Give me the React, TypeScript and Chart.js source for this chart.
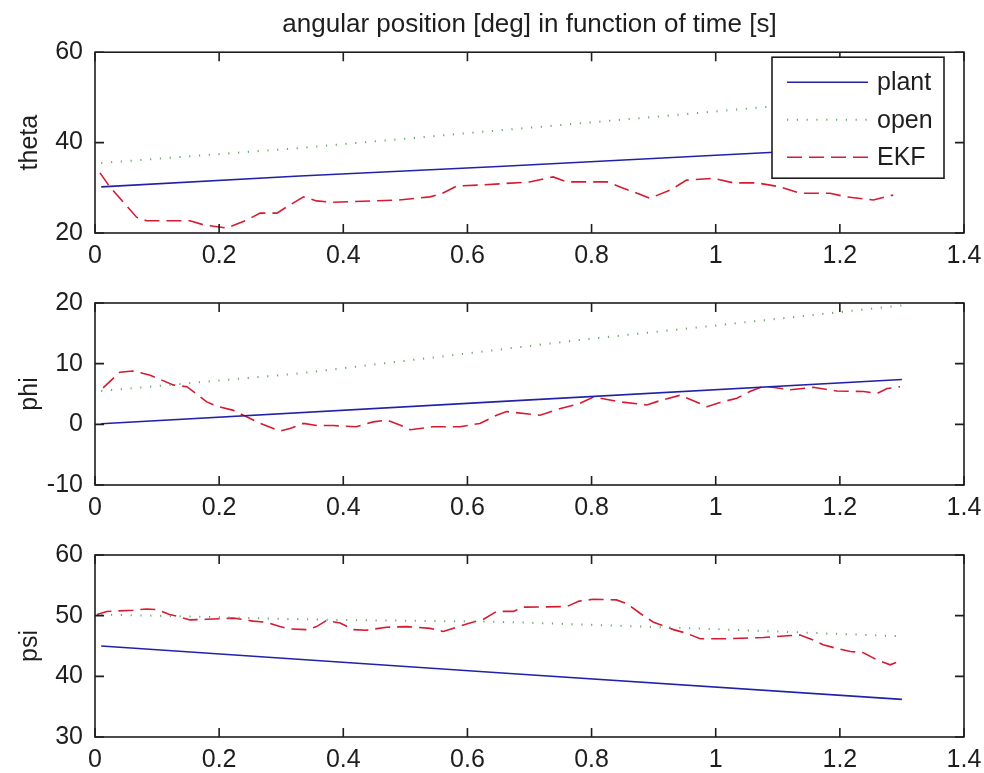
import React, { useEffect, useRef } from "react";
import { Chart, registerables } from "chart.js";

Chart.register(...registerables);

const FONT = "'Liberation Sans', Arial, Helvetica, sans-serif";
const INK = "#1e1e1e";

const FIGURE_TITLE = "angular position [deg] in function of time [s]";
const SERIES_LABELS = ["plant", "open", "EKF"];
const X_MIN = 0;
const X_MAX = 1.4;
const X_STEP = 0.2;

// ---- theta ----
const thetaPlantTime = [0.01, 0.33, 0.65, 1.0, 1.3];
const thetaPlant = [30.2, 32.6, 34.7, 37.2, 39.3];
const thetaOpenTime = [0.01, 0.33, 0.65, 0.86, 1.09, 1.3];
const thetaOpen = [35.5, 38.8, 42.7, 45.2, 48.0, 50.3];
const thetaEkfTime = [0.008, 0.024, 0.067, 0.083, 0.153, 0.175, 0.212, 0.245, 0.266, 0.293, 0.314, 0.336, 0.357, 0.384, 0.49, 0.54, 0.56, 0.583, 0.62, 0.7, 0.738, 0.76, 0.825, 0.846, 0.894, 0.927, 0.953, 0.996, 1.028, 1.066, 1.104, 1.136, 1.184, 1.21, 1.254, 1.286];
const thetaEkf = [33.3, 30.2, 23.5, 22.7, 22.7, 21.8, 21.1, 22.9, 24.4, 24.4, 26.2, 28.0, 27.1, 26.8, 27.3, 28.0, 28.8, 30.4, 30.6, 31.3, 32.4, 31.3, 31.3, 30.2, 27.7, 29.5, 31.7, 32.1, 31.1, 31.1, 30.2, 28.8, 28.8, 28.0, 27.3, 28.4];
const thetaTicks = { min: 20, max: 60, step: 20 };

// ---- phi ----
const phiPlantTime = [0.01, 0.65, 1.3];
const phiPlant = [0.1, 3.75, 7.4];
const phiOpenTime = [0.01, 0.33, 0.65, 0.78, 1.0, 1.2, 1.3];
const phiOpen = [5.5, 8.4, 12.3, 13.9, 16.3, 18.5, 19.6];
const phiEkfTime = [0.013, 0.04, 0.061, 0.089, 0.126, 0.148, 0.18, 0.196, 0.223, 0.245, 0.266, 0.298, 0.314, 0.336, 0.357, 0.384, 0.421, 0.448, 0.47, 0.491, 0.508, 0.545, 0.588, 0.62, 0.647, 0.663, 0.717, 0.75, 0.78, 0.803, 0.846, 0.889, 0.91, 0.943, 0.964, 0.986, 1.007, 1.034, 1.055, 1.077, 1.12, 1.157, 1.195, 1.238, 1.26, 1.276, 1.297];
const phiEkf = [6.0, 8.6, 8.8, 8.1, 6.5, 6.2, 3.7, 3.0, 2.3, 1.2, 0.15, -1.1, -0.7, 0.15, -0.2, -0.2, -0.4, 0.4, 0.7, -0.1, -0.9, -0.4, -0.4, 0.15, 1.5, 2.1, 1.5, 2.6, 3.4, 4.5, 3.7, 3.2, 3.9, 4.8, 3.9, 2.9, 3.6, 4.3, 5.4, 6.3, 5.7, 6.1, 5.5, 5.4, 5.1, 5.9, 6.2];
const phiTicks = { min: -10, max: 20, step: 10 };

// ---- psi ----
const psiPlantTime = [0.01, 0.65, 1.3];
const psiPlant = [45.0, 40.6, 36.2];
const psiOpenTime = [0.01, 0.38, 0.65, 0.94, 1.3];
const psiOpen = [50.2, 49.3, 49.0, 48.0, 46.6];
const psiEkfTime = [0.003, 0.019, 0.061, 0.083, 0.1, 0.12, 0.132, 0.153, 0.18, 0.223, 0.255, 0.277, 0.298, 0.314, 0.341, 0.357, 0.373, 0.395, 0.416, 0.437, 0.47, 0.502, 0.54, 0.561, 0.583, 0.604, 0.626, 0.647, 0.674, 0.69, 0.76, 0.78, 0.803, 0.84, 0.857, 0.878, 0.9, 0.932, 0.953, 0.975, 1.018, 1.077, 1.115, 1.136, 1.157, 1.173, 1.195, 1.217, 1.238, 1.26, 1.281, 1.297];
const psiEkf = [50.2, 50.7, 50.9, 51.1, 51.0, 50.2, 49.9, 49.3, 49.4, 49.6, 49.1, 48.9, 48.2, 47.8, 47.7, 48.2, 49.2, 48.8, 47.7, 47.6, 48.1, 48.2, 47.9, 47.4, 48.1, 48.8, 49.4, 50.7, 50.7, 51.4, 51.5, 52.4, 52.7, 52.6, 52.0, 50.4, 48.9, 47.7, 47.1, 46.2, 46.2, 46.4, 46.7, 46.8, 46.0, 45.2, 44.6, 44.1, 43.9, 42.7, 41.9, 42.5];
const psiTicks = { min: 30, max: 60, step: 10 };

const toPoints = (t: number[], v: number[]) => t.map((x, i) => ({ x, y: v[i] }));

const STYLES = [
  { borderColor: "rgb(34,34,168)", borderWidth: 1.6, borderDash: [] as number[] },
  { borderColor: "rgb(105,170,105)", borderWidth: 2, borderDash: [1.2, 8.6] },
  { borderColor: "rgb(214,26,48)", borderWidth: 1.6, borderDash: [15, 7] },
];

const boxAndTicks = {
  id: "boxAndTicks",
  afterDatasetsDraw(chart: any) {
    const { ctx, chartArea, scales } = chart;
    const { left, right, top, bottom } = chartArea;
    const len = 9;
    ctx.save();
    ctx.strokeStyle = INK;
    ctx.lineWidth = 1.6;
    ctx.setLineDash([]);
    ctx.strokeRect(left, top, right - left, bottom - top);
    ctx.beginPath();
    scales.x.ticks.forEach((t: any) => {
      const px = scales.x.getPixelForValue(t.value);
      ctx.moveTo(px, bottom);
      ctx.lineTo(px, bottom - len);
      ctx.moveTo(px, top);
      ctx.lineTo(px, top + len);
    });
    scales.y.ticks.forEach((t: any) => {
      const py = scales.y.getPixelForValue(t.value);
      ctx.moveTo(left, py);
      ctx.lineTo(left + len, py);
      ctx.moveTo(right, py);
      ctx.lineTo(right - len, py);
    });
    ctx.stroke();
    ctx.restore();
  },
};

const boxLegend = {
  id: "boxLegend",
  afterDraw(chart: any, _args: any, opts: any) {
    if (!opts || !opts.show) return;
    const { ctx, chartArea } = chart;
    const w = 172;
    const h = 121;
    const x0 = chartArea.right - 20 - w;
    const y0 = chartArea.top + 5;
    ctx.save();
    ctx.fillStyle = "#ffffff";
    ctx.fillRect(x0, y0, w, h);
    ctx.strokeStyle = INK;
    ctx.lineWidth = 1.6;
    ctx.setLineDash([]);
    ctx.strokeRect(x0, y0, w, h);
    ctx.font = `25px ${FONT}`;
    ctx.textBaseline = "middle";
    ctx.textAlign = "left";
    chart.data.datasets.forEach((ds: any, i: number) => {
      const yy = y0 + 25 + i * 37.5;
      ctx.beginPath();
      ctx.strokeStyle = ds.borderColor;
      ctx.lineWidth = ds.borderWidth;
      ctx.setLineDash(ds.borderDash || []);
      ctx.moveTo(x0 + 15, yy);
      ctx.lineTo(x0 + 96, yy);
      ctx.stroke();
      ctx.setLineDash([]);
      ctx.fillStyle = INK;
      ctx.fillText(ds.label, x0 + 105, yy + 1);
    });
    ctx.restore();
  },
};

type PanelProps = {
  top: number;
  height: number;
  padTop: number;
  xHeight: number;
  yLabel: string;
  ticks: { min: number; max: number; step: number };
  series: { t: number[]; v: number[] }[];
  title?: string;
  legend?: boolean;
};

function Panel(p: PanelProps) {
  const ref = useRef<HTMLCanvasElement | null>(null);
  useEffect(() => {
    if (!ref.current) return;
    const chart = new Chart(ref.current, {
      type: "line",
      data: {
        datasets: p.series.map((s, i) => ({
          label: SERIES_LABELS[i],
          data: toPoints(s.t, s.v),
          borderColor: STYLES[i].borderColor,
          borderWidth: STYLES[i].borderWidth,
          borderDash: STYLES[i].borderDash,
          pointRadius: 0,
          tension: 0,
          fill: false,
        })),
      },
      options: {
        responsive: false,
        animation: false,
        devicePixelRatio: 1,
        layout: { padding: { top: p.title ? 0 : p.padTop, right: 20, left: 0, bottom: 0 } },
        plugins: {
          legend: { display: false },
          tooltip: { enabled: false },
          title: {
            display: !!p.title,
            text: p.title || "",
            fullSize: false,
            color: INK,
            font: { family: FONT, size: 26, weight: "normal" },
            padding: { top: 9, bottom: 12 },
          },
          boxLegend: { show: !!p.legend },
        } as any,
        scales: {
          x: {
            type: "linear",
            min: X_MIN,
            max: X_MAX,
            grid: { display: false, drawTicks: false },
            border: { display: false },
            ticks: {
              stepSize: X_STEP,
              padding: 8,
              color: INK,
              font: { family: FONT, size: 25 },
              maxRotation: 0,
              autoSkip: false,
              callback: (v: any) => String(Math.round(Number(v) * 10) / 10),
            },
            afterFit: (s: any) => {
              s.height = p.xHeight;
              s.paddingRight = 0;
              s.paddingLeft = 0;
            },
          },
          y: {
            type: "linear",
            min: p.ticks.min,
            max: p.ticks.max,
            grid: { display: false, drawTicks: false },
            border: { display: false },
            ticks: {
              stepSize: p.ticks.step,
              padding: 12,
              color: INK,
              font: { family: FONT, size: 25 },
              callback: (v: any) => String(Math.round(Number(v))),
            },
            title: {
              display: true,
              text: p.yLabel,
              color: INK,
              font: { family: FONT, size: 25, weight: "normal" },
              padding: { top: 15, bottom: 0 },
            },
            afterFit: (s: any) => {
              s.width = 95;
              s.paddingTop = 0;
              s.paddingBottom = 0;
            },
          },
        },
      },
      plugins: [boxAndTicks, boxLegend],
    });
    return () => chart.destroy();
  }, []);
  return (
    <div style={{ position: "absolute", left: 0, top: p.top, width: 984, height: p.height }}>
      <canvas ref={ref} width={984} height={p.height} style={{ display: "block" }} />
    </div>
  );
}

export default function App() {
  return (
    <div style={{ position: "absolute", left: 0, top: 0, width: 984, height: 773, background: "#ffffff", overflow: "hidden" }}>
      <Panel
        top={0}
        height={268}
        padTop={52}
        xHeight={35}
        yLabel="theta"
        ticks={thetaTicks}
        title={FIGURE_TITLE}
        legend
        series={[
          { t: thetaPlantTime, v: thetaPlant },
          { t: thetaOpenTime, v: thetaOpen },
          { t: thetaEkfTime, v: thetaEkf },
        ]}
      />
      <Panel
        top={268}
        height={250}
        padTop={35}
        xHeight={33}
        yLabel="phi"
        ticks={phiTicks}
        series={[
          { t: phiPlantTime, v: phiPlant },
          { t: phiOpenTime, v: phiOpen },
          { t: phiEkfTime, v: phiEkf },
        ]}
      />
      <Panel
        top={518}
        height={255}
        padTop={37}
        xHeight={36}
        yLabel="psi"
        ticks={psiTicks}
        series={[
          { t: psiPlantTime, v: psiPlant },
          { t: psiOpenTime, v: psiOpen },
          { t: psiEkfTime, v: psiEkf },
        ]}
      />
    </div>
  );
}
